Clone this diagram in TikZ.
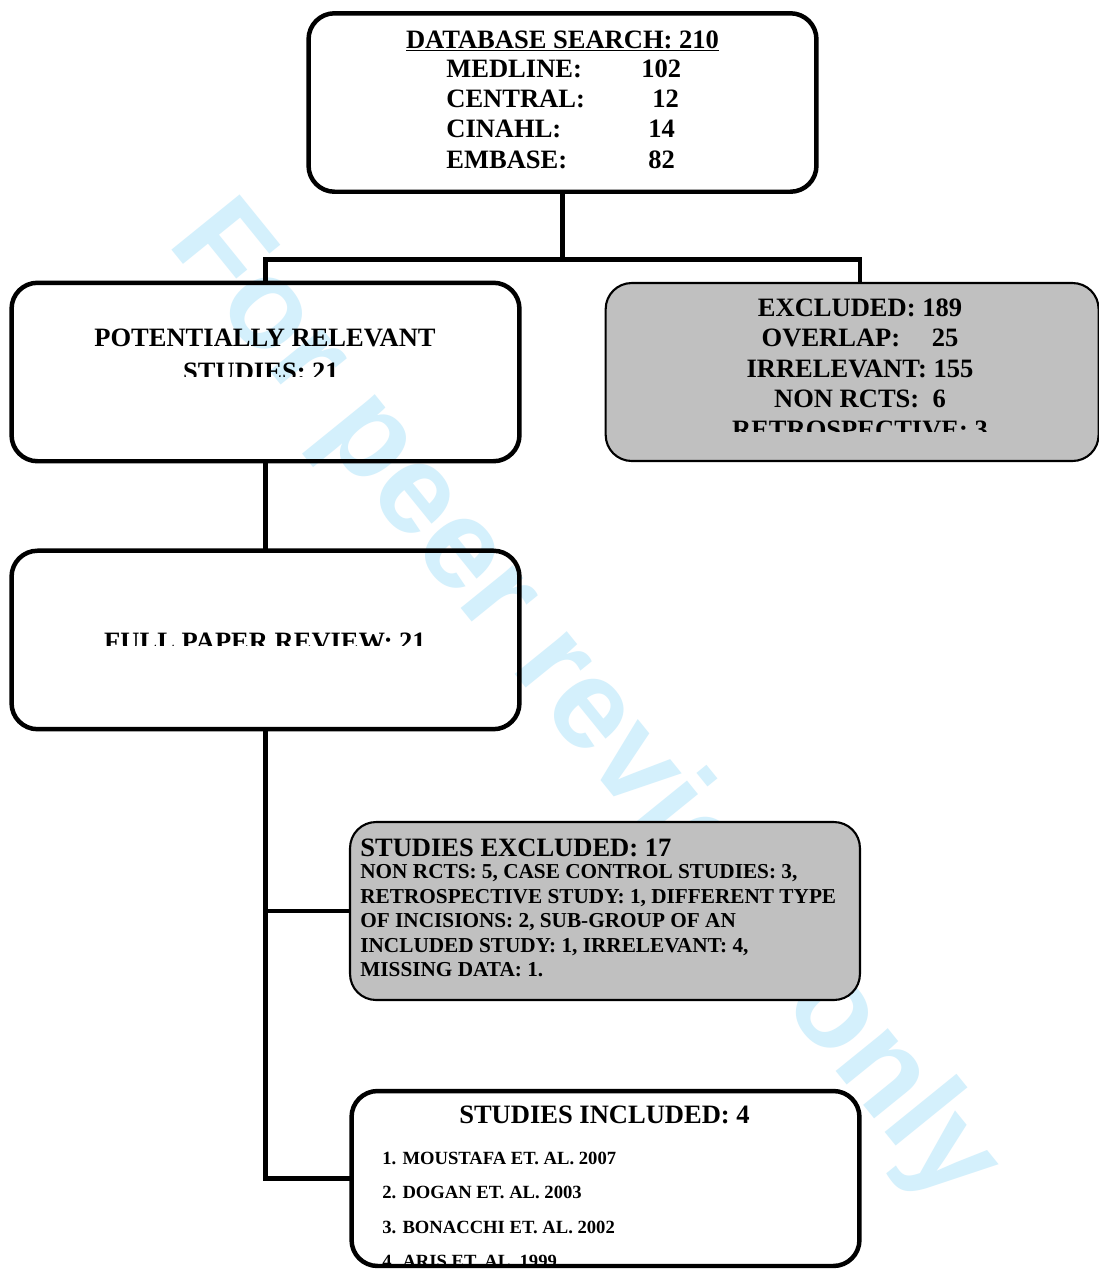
\documentclass[tikz,border=0pt]{standalone}
\usepackage{fontspec}
\setmainfont{Liberation Serif}
\newfontfamily\markfont{Liberation Sans}
\usetikzlibrary{positioning}
\definecolor{boxgrey}{RGB}{192,192,192}
\definecolor{markblue}{RGB}{212,240,252}
\tikzset{flowbox/.style={rectangle,rounded corners=0.52cm,draw=black,line width=2.55pt,
inner sep=0pt,outer sep=0pt,minimum width=10.16cm,minimum height=3.57cm}}
\tikzset{greybox/.style={flowbox,fill=boxgrey,line width=1.2pt,minimum height=3.56cm}}
\tikzset{boxtext/.style={inner sep=0pt,font=\bfseries\fontsize{15.1pt}{17.3pt}\selectfont}}
\tikzset{midtext/.style={inner sep=0pt,font=\bfseries\fontsize{12.1pt}{13.6pt}\selectfont}}
\tikzset{listtext/.style={inner sep=0pt,font=\bfseries\fontsize{10.6pt}{12pt}\selectfont}}
\tikzset{link/.style={draw=black,line width=2.55pt}}

\begin{document}
\begin{tikzpicture}[x=0.02cm,y=-0.02cm]
    \path[use as bounding box] (0,0) rectangle (1099,1269);
    \clip (0,0) rectangle (1099,1269);
    \fill[white] (0,0) rectangle (1099,1269);

    % watermark behind everything
    \node[rotate=-51,inner sep=0pt,text=markblue,
      font=\markfont\bfseries\fontsize{72.6pt}{80pt}\selectfont] (mark) at (582,705) {For peer review only};

    \node[flowbox] (search) at (562.5,102.5) {};
    \node[flowbox] (relevant) at (265.5,372) {};
    \node[greybox,minimum width=9.86cm] (excluded) [right=1.725cm of relevant] {};
    \node[flowbox] (review) [below=1.79cm of relevant] {};
    \node[greybox,minimum width=10.2cm] (dropped) at (605,911) {};
    \node[flowbox,minimum height=3.5cm] (included) at (605.5,1178.5) {};

    \coordinate (split) at (562.5,259.5);
    \coordinate (exdrop) at (860,259.5);
    \draw[link] (search.south) -- (split);
    \draw[link] (relevant.north) |- (exdrop) -- (exdrop |- excluded.north);
    \draw[link] (relevant.south) -- (review.north);
    \draw[link] (review.south) |- (included.west);
    \draw[link] (review.south |- dropped.west) -- (dropped.west);

    % database search
    \node[boxtext,anchor=base] (dbtitle) at (562.5,48) {\underline{DATABASE SEARCH: 210}};
    \foreach \lab/\num/\nx/\by [count=\i] in {MEDLINE:/102/641/77, CENTRAL:/12/652/107.5,
        CINAHL:/14/648/137.5, EMBASE:/82/648/168} {
      \node[boxtext,anchor=base west] (db\i) at (446,\by) {\lab};
      \node[boxtext,anchor=base west] (dbn\i) at (\nx,\by) {\num};
    }

    % potentially relevant
    \node[boxtext,anchor=base] (reltitle) at (265,346) {POTENTIALLY RELEVANT};
    \begin{scope}
      \clip (0,0) rectangle (1099,376.7);
      \node[boxtext,anchor=base] (relcount) at (261,380) {STUDIES: 21};
    \end{scope}

    % excluded
    \foreach \txt/\by [count=\i] in {{EXCLUDED: 189}/316, {OVERLAP:\hspace{0.63cm}25}/346,
        {IRRELEVANT: 155}/377, {NON RCTS:\ \ 6}/407.5} {
      \node[boxtext,anchor=base] (ex\i) at (860,\by) {\txt};
    }
    \begin{scope}
      \clip (0,0) rectangle (1099,431);
      \node[boxtext,anchor=base] (ex5) at (860,438) {RETROSPECTIVE: 3};
    \end{scope}

    % full paper review
    \begin{scope}
      \clip (0,0) rectangle (1099,645);
      \node[boxtext,anchor=base] (revtitle) at (265,650) {FULL PAPER REVIEW: 21};
    \end{scope}

    % studies excluded
    \node[boxtext,anchor=base west] (droptitle) at (360,856) {STUDIES EXCLUDED: 17};
    \foreach \txt/\by [count=\i] in {{NON RCTS: 5, CASE CONTROL STUDIES: 3,}/878.5,
        {RETROSPECTIVE STUDY: 1, DIFFERENT TYPE}/903,
        {OF INCISIONS: 2, SUB-GROUP OF AN}/927.5,
        {INCLUDED STUDY: 1, IRRELEVANT: 4,}/952,
        {MISSING DATA: 1.}/976} {
      \node[midtext,anchor=base west] (drop\i) at (360,\by) {\txt};
    }

    % studies included
    \node[boxtext,anchor=base] (inctitle) at (604.5,1123) {STUDIES INCLUDED: 4};
    \foreach \txt [count=\i] in {1. MOUSTAFA ET. AL. 2007, 2. DOGAN ET. AL. 2003,
        3. BONACCHI ET. AL. 2002, 4. ARIS ET. AL. 1999} {
      \node[listtext,anchor=base west] (inc\i) at (382,1130.2+34.3*\i) {\txt};
    }
\end{tikzpicture}
\end{document}
